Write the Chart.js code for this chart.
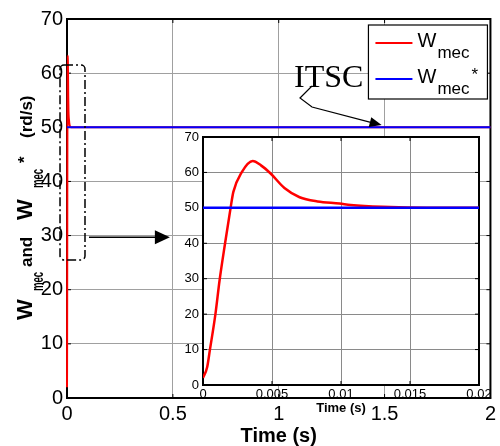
<!DOCTYPE html>
<html>
<head>
<meta charset="utf-8">
<script src="https://cdn.jsdelivr.net/npm/chart.js@4.4.0/dist/chart.umd.min.js"></script>
<style>
body { margin: 0; background: #fff; }
#wrap { position: relative; width: 500px; height: 446px; }
#wrap canvas { position: absolute; left: 0; top: 0; }
</style>
</head>
<body>
<div id="wrap">
  <canvas id="mainChart" width="500" height="446"></canvas>
  <canvas id="zoomChart" width="500" height="446"></canvas>
</div>
<script>
// speed response (time in s, speed in rd/s)
const timeSteps = [0, 0.0003, 0.0005, 0.0009, 0.0012, 0.0016, 0.002, 0.0022, 0.0028, 0.0036, 0.0042, 0.0049, 0.0059, 0.007, 0.0083, 0.0099, 0.0107, 0.013, 0.0186, 2];
const wMec = [2, 5, 9.9, 20, 29.5, 40, 50, 54.5, 60, 63.2, 62, 59.7, 55.6, 53, 51.8, 51.2, 50.8, 50.3, 50, 50];
const refTimes = [0, 2];
const wMecRef = [50, 50];

const mainXTicks = [0, 0.5, 1, 1.5, 2];
const mainYTicks = [0, 10, 20, 30, 40, 50, 60, 70];
const zoomXTicks = [0, 0.005, 0.01, 0.015, 0.02];
const zoomYTicks = [0, 10, 20, 30, 40, 50, 60, 70];

const FONT = '"Liberation Sans", Arial, sans-serif';
const SERIF = '"Liberation Serif", "Times New Roman", serif';

function toPoints(xs, ys) {
    return xs.map((x, i) => ({x: x, y: ys[i]}));
}

function makeDatasets(width, clip) {
    return [
        {
            label: 'Wmec',
            data: toPoints(timeSteps, wMec),
            borderColor: '#ff0000',
            borderWidth: width,
            pointRadius: 0,
            cubicInterpolationMode: 'monotone',
            clip: clip,
            order: 1
        },
        {
            label: 'Wmec*',
            data: toPoints(refTimes, wMecRef),
            borderColor: '#0000ff',
            borderWidth: width,
            pointRadius: 0,
            clip: clip,
            order: 0
        }
    ];
}

// box round the plot area + small inward ticks on every side
function framePlugin(fillWhite, tickLen) {
    return {
        id: 'frame',
        beforeDraw(chart) {
            if (!fillWhite) return;
            const a = chart.chartArea;
            chart.ctx.save();
            chart.ctx.fillStyle = '#fff';
            chart.ctx.fillRect(a.left, a.top, a.width, a.height);
            chart.ctx.restore();
        },
        beforeDatasetsDraw(chart) {
            const {ctx, chartArea: a, scales} = chart;
            ctx.save();
            ctx.strokeStyle = '#000';
            ctx.lineWidth = 1;
            ctx.beginPath();
            scales.x.ticks.forEach(t => {
                const px = scales.x.getPixelForValue(t.value);
                ctx.moveTo(px, a.bottom); ctx.lineTo(px, a.bottom - tickLen);
                ctx.moveTo(px, a.top); ctx.lineTo(px, a.top + tickLen);
            });
            scales.y.ticks.forEach(t => {
                const py = scales.y.getPixelForValue(t.value);
                ctx.moveTo(a.left, py); ctx.lineTo(a.left + tickLen, py);
                ctx.moveTo(a.right, py); ctx.lineTo(a.right - tickLen, py);
            });
            ctx.stroke();
            ctx.lineWidth = 2;
            ctx.strokeRect(a.left, a.top, a.width, a.height);
            ctx.restore();
        }
    };
}

function arrowHead(ctx, x1, y1, x2, y2, len, half) {
    const ang = Math.atan2(y2 - y1, x2 - x1);
    ctx.beginPath();
    ctx.moveTo(x2, y2);
    ctx.lineTo(x2 - len * Math.cos(ang) + half * Math.sin(ang), y2 - len * Math.sin(ang) - half * Math.cos(ang));
    ctx.lineTo(x2 - len * Math.cos(ang) - half * Math.sin(ang), y2 - len * Math.sin(ang) + half * Math.cos(ang));
    ctx.closePath();
    ctx.fill();
}

// axis titles, legend, ITSC note and the zoom box
const mainDecor = {
    id: 'mainDecor',
    afterDraw(chart) {
        const {ctx, chartArea: a, scales: {x, y}} = chart;
        ctx.save();
        ctx.fillStyle = '#000';
        ctx.strokeStyle = '#000';

        // x title
        ctx.font = 'bold 20px ' + FONT;
        ctx.textAlign = 'center';
        ctx.textBaseline = 'middle';
        ctx.fillText('Time (s)', (a.left + a.right) / 2, 436);

        // y title with subscripts
        const parts = [
            {t: 'W', at: 0, size: 22},
            {t: 'mec', at: 29, size: 16, dy: 11, sx: 0.6},
            {t: 'and', at: 53, size: 17},
            {t: 'W', at: 100, size: 22},
            {t: 'mec', at: 132, size: 16, dy: 11, sx: 0.6},
            {t: '*', at: 157, size: 17, dy: -2.5},
            {t: '(rd/s)', at: 182, size: 17}
        ];
        ctx.save();
        ctx.translate(32, 320);
        ctx.rotate(-Math.PI / 2);
        ctx.textAlign = 'left';
        ctx.textBaseline = 'alphabetic';
        parts.forEach(p => {
            ctx.save();
            ctx.translate(p.at, p.dy || 0);
            ctx.scale(p.sx || 1, 1);
            ctx.font = 'bold ' + p.size + 'px ' + FONT;
            ctx.fillText(p.t, 0, 0);
            ctx.restore();
        });
        ctx.restore();

        // dash-dot zoom box near t = 0
        const bx1 = x.getPixelForValue(-0.033), bx2 = x.getPixelForValue(0.085);
        const by1 = y.getPixelForValue(61.5), by2 = y.getPixelForValue(25.5);
        ctx.lineWidth = 1.5;
        ctx.setLineDash([9, 3, 2, 3]);
        ctx.beginPath();
        ctx.roundRect(bx1, by1, bx2 - bx1, by2 - by1, 4);
        ctx.stroke();
        ctx.setLineDash([]);

        // arrow to the inset
        const ay = y.getPixelForValue(29.7);
        const ax1 = bx2 + 4, ax2 = x.getPixelForValue(0.486);
        ctx.lineWidth = 1.5;
        ctx.beginPath();
        ctx.moveTo(ax1, ay); ctx.lineTo(ax2 - 12, ay);
        ctx.stroke();
        arrowHead(ctx, ax1, ay, ax2, ay, 15, 7);

        // ITSC note
        ctx.font = '32px ' + SERIF;
        ctx.textAlign = 'left';
        ctx.textBaseline = 'alphabetic';
        ctx.fillText('ITSC', 294, 87);
        const tipX = x.getPixelForValue(1.486), tipY = y.getPixelForValue(50.4);
        ctx.lineWidth = 1.2;
        ctx.beginPath();
        ctx.moveTo(312, 86); ctx.lineTo(300, 98); ctx.lineTo(312, 107); ctx.lineTo(tipX - 9, tipY - 2.3);
        ctx.stroke();
        arrowHead(ctx, 312, 107, tipX, tipY, 12, 5);

        // legend
        const lx = a.right - 122, ly = a.top + 6;
        ctx.fillStyle = '#fff';
        ctx.fillRect(lx, ly, 119, 74);
        ctx.lineWidth = 1.2;
        ctx.strokeRect(lx, ly, 119, 74);
        ctx.lineWidth = 2;
        ctx.strokeStyle = '#ff0000';
        ctx.beginPath(); ctx.moveTo(lx + 7, ly + 18); ctx.lineTo(lx + 44, ly + 18); ctx.stroke();
        ctx.strokeStyle = '#0000ff';
        ctx.beginPath(); ctx.moveTo(lx + 7, ly + 54); ctx.lineTo(lx + 44, ly + 54); ctx.stroke();
        ctx.fillStyle = '#000';
        ctx.font = '20px ' + FONT;
        ctx.fillText('W', lx + 49, ly + 22);
        ctx.fillText('W', lx + 49, ly + 58);
        ctx.font = '17px ' + FONT;
        ctx.fillText('mec', lx + 69, ly + 33);
        ctx.fillText('mec', lx + 69, ly + 69);
        ctx.fillText('*', lx + 103, ly + 55);
        ctx.restore();
    }
};

const zoomDecor = {
    id: 'zoomDecor',
    afterDraw(chart) {
        const {ctx, chartArea: a} = chart;
        ctx.save();
        ctx.fillStyle = '#000';
        ctx.font = 'bold 13px ' + FONT;
        ctx.textAlign = 'center';
        ctx.textBaseline = 'middle';
        ctx.fillText('Time (s)', (a.left + a.right) / 2, 408);
        ctx.restore();
    }
};

function axisX(min, max, ticks, size, pad, height, gridColor) {
    return {
        type: 'linear', min: min, max: max,
        afterBuildTicks: s => { s.ticks = ticks.map(v => ({value: v})); },
        afterFit: s => { s.height = height; },
        grid: {color: gridColor, drawTicks: false},
        border: {display: false},
        ticks: {color: '#000', font: {family: FONT, size: size}, padding: pad,
                maxRotation: 0, autoSkip: false, callback: v => String(v)}
    };
}

function axisY(ticks, size, pad, width, gridColor) {
    return {
        type: 'linear', min: 0, max: 70,
        afterBuildTicks: s => { s.ticks = ticks.map(v => ({value: v})); },
        afterFit: s => { s.width = width; },
        grid: {color: gridColor, drawTicks: false},
        border: {display: false},
        ticks: {color: '#000', font: {family: FONT, size: size}, padding: pad,
                autoSkip: false, callback: v => String(v)}
    };
}

new Chart(document.getElementById('mainChart').getContext('2d'), {
    type: 'line',
    data: {datasets: makeDatasets(2, false)},
    options: {
        responsive: false,
        animation: false,
        events: [],
        layout: {padding: {left: 7, right: 9, top: 19, bottom: 0}},
        scales: {
            x: axisX(0, 2, mainXTicks, 20, 4, 48, '#a0a0a0'),
            y: axisY(mainYTicks, 20, 4, 60, '#a0a0a0')
        },
        plugins: {legend: {display: false}, tooltip: {enabled: false}}
    },
    plugins: [framePlugin(false, 4), mainDecor]
});

new Chart(document.getElementById('zoomChart').getContext('2d'), {
    type: 'line',
    data: {datasets: makeDatasets(2.5, undefined)},
    options: {
        responsive: false,
        animation: false,
        events: [],
        layout: {padding: {left: 163, right: 21, top: 137, bottom: 0}},
        scales: {
            x: axisX(0, 0.02, zoomXTicks, 13, 2, 61, '#8a8a8a'),
            y: axisY(zoomYTicks, 13, 4, 40, '#8a8a8a')
        },
        plugins: {legend: {display: false}, tooltip: {enabled: false}}
    },
    plugins: [framePlugin(true, 4), zoomDecor]
});
</script>
</body>
</html>
